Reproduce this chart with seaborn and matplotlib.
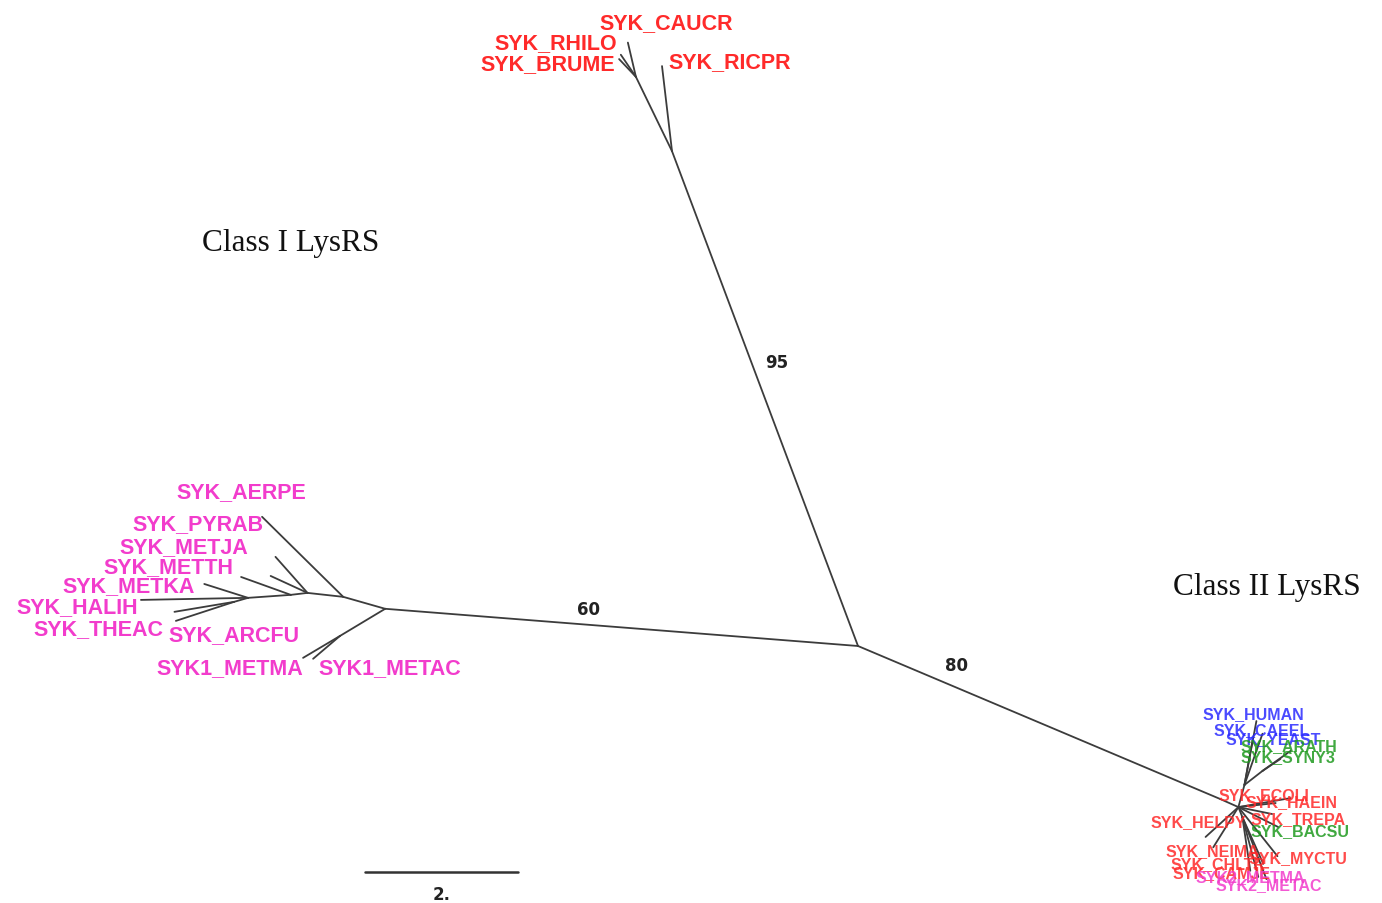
import numpy as np
import pandas as pd
import matplotlib
matplotlib.use("Agg")
import matplotlib.pyplot as plt
import seaborn as sns

# ---------------------------------------------------------------------------
# Unrooted LysRS tree. Every node hangs from its parent by a branch of the
# given length (substitutions per site) drawn at the given angle (degrees).
# ---------------------------------------------------------------------------
node_names = [
    "C",
    # class I, alpha-proteobacteria
    "T", "T2", "SYK_CAUCR", "SYK_RHILO", "SYK_BRUME", "SYK_RICPR",
    # class I, archaea
    "L1", "L2", "L4", "SYK1_METMA", "SYK1_METAC", "SYK_AERPE", "L3",
    "SYK_PYRAB", "SYK_METJA", "L5", "SYK_METTH", "L6", "SYK_METKA",
    "SYK_HALIH", "L7", "SYK_THEAC", "SYK_ARCFU",
    # class II
    "R", "H", "U", "SYK_HUMAN", "SYK_CAEEL", "SYK_YEAST", "V", "SYK_ARATH",
    "SYK_SYNY3", "SYK_ECOLI", "SYK_HAEIN", "SYK_TREPA", "SYK_BACSU",
    "SYK_MYCTU", "W", "SYK_CHLTR", "SYK_CAMJE", "SYK2_METMA", "SYK2_METAC",
    "SYK_NEIMA", "SYK_HELPY",
]
parents = [
    None,
    "C", "T", "T2", "T2", "T2", "T",
    "C", "L1", "L1", "L4", "L4", "L2", "L2",
    "L3", "L3", "L3", "L5", "L5", "L6",
    "L6", "L6", "L7", "L7",
    "C", "R", "H", "U", "U", "U", "U", "V",
    "V", "H", "H", "H", "H",
    "H", "H", "W", "W", "W", "W",
    "H", "H",
]
branch_lengths = [
    0.0,
    6.91, 1.08, 0.46, 0.35, 0.32, 1.12,
    6.20, 0.57, 0.69, 0.56, 0.46, 1.49, 0.47,
    0.63, 0.53, 0.22, 0.69, 0.56, 0.60,
    1.40, 0.19, 0.79, 0.80,
    5.14, 0.26, 0.30, 0.85, 0.71, 0.58, 0.30, 0.45,
    0.28, 0.49, 0.69, 0.45, 0.58,
    0.82, 0.14, 0.67, 0.71, 0.81, 0.87,
    0.62, 0.58,
]
branch_angles = [
    0.0,
    110.6, 115.9, 103.2, 124.3, 133.4, 96.7,
    175.5, 164.1, 211.0, 210.7, 220.4, 135.4, 173.7,
    131.6, 155.3, 186.7, 160.2, 184.0, 162.4,
    181.1, 196.0, 189.5, 198.1,
    -22.9, -24.0, 74.7, 79.4, 70.6, 79.7, 37.9, 35.5,
    33.7, 6.2, 9.8, -11.6, -26.6,
    -51.5, -68.2, -65.9, -81.6, -75.1, -68.8,
    -122.0, -137.7,
]

# Bootstrap support on the three long internal branches
support_nodes = ["T", "L1", "R"]
support_values = [95, 60, 80]

# Leaf groups
leaf_groups = {
    "SYK_CAUCR": "bact1", "SYK_RHILO": "bact1", "SYK_BRUME": "bact1",
    "SYK_RICPR": "bact1",
    "SYK1_METMA": "arch1", "SYK1_METAC": "arch1", "SYK_AERPE": "arch1",
    "SYK_PYRAB": "arch1", "SYK_METJA": "arch1", "SYK_METTH": "arch1",
    "SYK_METKA": "arch1", "SYK_HALIH": "arch1", "SYK_THEAC": "arch1",
    "SYK_ARCFU": "arch1",
    "SYK_HUMAN": "euk", "SYK_CAEEL": "euk", "SYK_YEAST": "euk",
    "SYK_ARATH": "plant", "SYK_SYNY3": "plant", "SYK_BACSU": "plant",
    "SYK_ECOLI": "bact2", "SYK_HAEIN": "bact2", "SYK_TREPA": "bact2",
    "SYK_MYCTU": "bact2", "SYK_CHLTR": "bact2", "SYK_CAMJE": "bact2",
    "SYK_NEIMA": "bact2", "SYK_HELPY": "bact2",
    "SYK2_METMA": "arch2", "SYK2_METAC": "arch2",
}
scale_bar_value = 2.0
class_titles = ["Class I LysRS", "Class II LysRS"]

# ---------------------------------------------------------------------------
# Layout and styling
# ---------------------------------------------------------------------------
W_PX, H_PX = 1382, 904
PX_PER_UNIT = 76.5           # screen pixels per substitution/site
CENTER_PX = (858, 647)       # where the central node sits on the canvas

group_colors = {
    "bact1": "#ff2a2a", "arch1": "#f23ccc", "euk": "#2b2bff",
    "plant": "#1f9a1f", "bact2": "#ff2a2a", "arch2": "#f23ccc",
}

# (dx, dy) pixel offset of each leaf label from its tip (dy downwards), align
label_layout = {
    "SYK_CAUCR": (-28, -20, "left"), "SYK_RHILO": (-4, -12, "right"),
    "SYK_BRUME": (-4, 4, "right"), "SYK_RICPR": (6, -5, "left"),
    "SYK_AERPE": (-86, -25, "left"), "SYK_PYRAB": (-12, -33, "right"),
    "SYK_METJA": (-22, -29, "right"), "SYK_METTH": (-8, -10, "right"),
    "SYK_METKA": (-9, 2, "right"), "SYK_HALIH": (-3, 7, "right"),
    "SYK_THEAC": (-11, 17, "right"), "SYK_ARCFU": (-7, 14, "left"),
    "SYK1_METMA": (0, 10, "right"), "SYK1_METAC": (5, 9, "left"),
    "SYK_HUMAN": (-54, -7, "left"), "SYK_CAEEL": (-49, -4, "left"),
    "SYK_YEAST": (-27, -3, "left"), "SYK_ARATH": (-50, -5, "left"),
    "SYK_SYNY3": (-40, -2, "left"), "SYK_ECOLI": (-57, -8, "left"),
    "SYK_HAEIN": (-45, 3, "left"), "SYK_TREPA": (-22, 5, "left"),
    "SYK_BACSU": (-28, 4, "left"), "SYK_MYCTU": (-29, 1, "left"),
    "SYK_HELPY": (-55, -15, "left"), "SYK_NEIMA": (-48, 3, "left"),
    "SYK_CHLTR": (-93, 0, "left"), "SYK_CAMJE": (-78, 2, "left"),
    "SYK2_METMA": (-63, 0, "left"), "SYK2_METAC": (-51, 5, "left"),
}
class_II_leaves = {k for k, g in leaf_groups.items()
                   if g in ("euk", "plant", "bact2", "arch2")}


def px_to_data(px, py):
    return ((px - CENTER_PX[0]) / PX_PER_UNIT, (CENTER_PX[1] - py) / PX_PER_UNIT)


# Place nodes by walking down from the centre
pos = {}
for name, par, length, ang in zip(node_names, parents, branch_lengths, branch_angles):
    if par is None:
        pos[name] = (0.0, 0.0)
    else:
        px0, py0 = pos[par]
        a = np.deg2rad(ang)
        pos[name] = (px0 + length * np.cos(a), py0 + length * np.sin(a))

rows = []
for i, (name, par) in enumerate(zip(node_names, parents)):
    if par is None:
        continue
    rows.append({"edge": i, "x": pos[par][0], "y": pos[par][1]})
    rows.append({"edge": i, "x": pos[name][0], "y": pos[name][1]})
edges = pd.DataFrame(rows)

sns.set_theme(style="white")
plt.rcParams["font.family"] = ["Liberation Sans", "DejaVu Sans"]

fig = plt.figure(figsize=(W_PX / 100, H_PX / 100), dpi=100)
ax = fig.add_axes([0, 0, 1, 1])
ax.set_axis_off()

sns.lineplot(data=edges, x="x", y="y", units="edge", estimator=None,
             sort=False, color="#3c3c3c", lw=1.3, ax=ax, legend=False)

x0, y0 = px_to_data(0, H_PX)
x1, y1 = px_to_data(W_PX, 0)
ax.set_xlim(x0, x1)
ax.set_ylim(y0, y1)

# Leaf labels
for leaf, group in leaf_groups.items():
    dx, dy, ha = label_layout[leaf]
    small = leaf in class_II_leaves
    ax.annotate(leaf, xy=pos[leaf], xytext=(dx, -dy), textcoords="offset pixels",
                ha=ha, va="center", color=group_colors[group],
                fontsize=11.5 if small else 15.5, fontweight="bold",
                alpha=0.85 if small else 1.0)

# Bootstrap values along the long branches
support_layout = {"T": (0.574, 25, 0), "L1": (0.571, 0, -16), "R": (0.271, 0, -22)}
for node, val in zip(support_nodes, support_values):
    t, dx, dy = support_layout[node]
    par = parents[node_names.index(node)]
    (ax_, ay_), (bx_, by_) = pos[par], pos[node]
    pt = (ax_ + t * (bx_ - ax_), ay_ + t * (by_ - ay_))
    ax.annotate(str(val), xy=pt, xytext=(dx, -dy), textcoords="offset pixels",
                ha="center", va="center", fontsize=12, fontweight="bold",
                color="#222222", family=["DejaVu Sans"])

# Class titles
for title, (px, py) in zip(class_titles, [(202, 243), (1173, 587)]):
    ax.text(*px_to_data(px, py), title, ha="left", va="center",
            fontsize=22.5, color="#111111", family=["Liberation Serif", "DejaVu Serif"])

# Scale bar
bx, by = px_to_data(365, 873)
ax.plot([bx, bx + scale_bar_value], [by, by], color="#333333", lw=1.8)
ax.annotate(f"{scale_bar_value:.0f}.", xy=(bx + scale_bar_value / 2, by),
            xytext=(0, -22), textcoords="offset pixels", ha="center", va="center",
            fontsize=12, fontweight="bold", color="#222222", family=["DejaVu Sans"])

fig.savefig("out.png", dpi=100, facecolor="white")
